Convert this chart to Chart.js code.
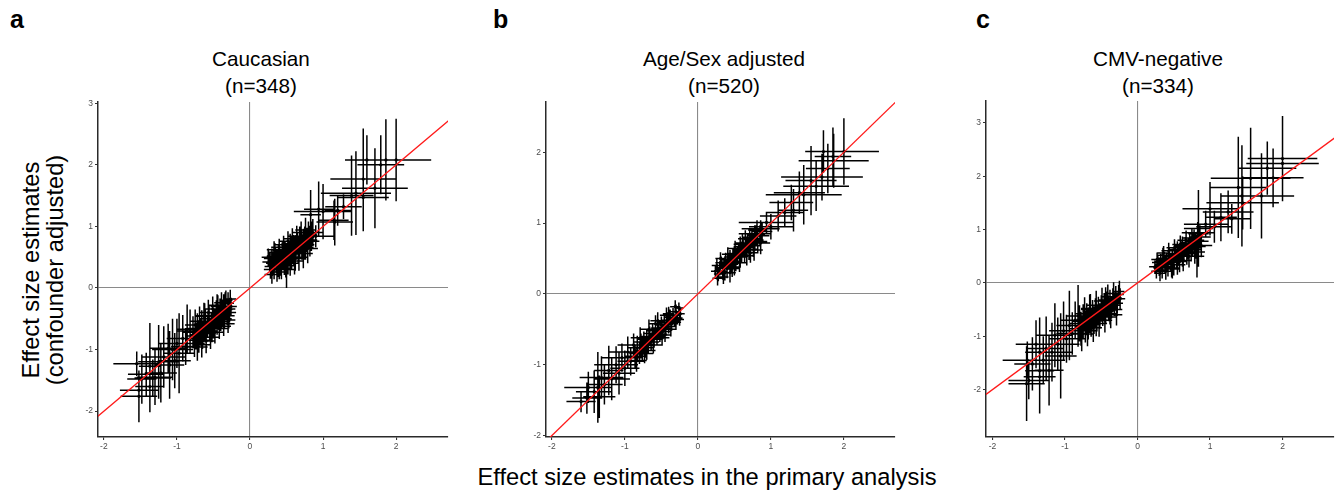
<!DOCTYPE html>
<html>
<head>
<meta charset="utf-8">
<script src="https://cdn.jsdelivr.net/npm/chart.js@4.4.1/dist/chart.umd.min.js"></script>
<style>
  body {
    margin: 0;
    width: 1338px;
    height: 493px;
    background: #fff;
    position: relative;
    overflow: hidden;
    font-family: "Liberation Sans", Arial, sans-serif;
    color: #000;
  }
  canvas { position: absolute; }
  .letter { position: absolute; font-weight: bold; font-size: 25px; line-height: 25px; }
  .title { position: absolute; width: 300px; text-align: center; font-size: 20.7px; line-height: 26.6px; }
  .axis-title { position: absolute; text-align: center; font-size: 23.7px; line-height: 24px; white-space: nowrap; }
</style>
</head>
<body>
<div class="letter" style="left:10px;top:7px">a</div>
<div class="letter" style="left:493px;top:7px">b</div>
<div class="letter" style="left:976px;top:7px">c</div>

<div class="title" style="left:111px;top:46px">Caucasian<br>(n=348)</div>
<div class="title" style="left:574px;top:46px">Age/Sex adjusted<br>(n=520)</div>
<div class="title" style="left:1008px;top:46px">CMV-negative<br>(n=334)</div>

<div class="axis-title" style="left:-107px;top:246px;width:300px;height:48px;transform:rotate(-90deg)">Effect size estimates<br>(confounder adjusted)</div>
<div class="axis-title" style="left:407px;top:465px;width:600px">Effect size estimates in the primary analysis</div>

<canvas id="chartA" width="390" height="364" style="left:62px;top:94px"></canvas>
<canvas id="chartB" width="389" height="364" style="left:510px;top:94px"></canvas>
<canvas id="chartC" width="388" height="365" style="left:950px;top:93px"></canvas>

<script>
// ticks
const xTicks = [-2, -1, 0, 1, 2];
const yTicksA = [-2, -1, 0, 1, 2, 3];
const yTicksB = [-2, -1, 0, 1, 2];
const yTicksC = [-2, -1, 0, 1, 2, 3];

// y = x reference line ends
const identityEnds = [-3, 3.5];

// rows: [primary estimate, adjusted estimate, x half-width, y half-width]
const caucasianRows = [
  // positive cluster
  [0.27,0.42,0.10,0.15],[0.29,0.35,0.09,0.14],[0.30,0.48,0.11,0.16],[0.32,0.40,0.10,0.18],
  [0.33,0.30,0.08,0.16],[0.35,0.52,0.12,0.15],[0.36,0.44,0.10,0.17],[0.38,0.36,0.09,0.18],
  [0.39,0.55,0.11,0.14],[0.41,0.47,0.12,0.17],[0.42,0.40,0.10,0.20],[0.44,0.58,0.10,0.16],
  [0.45,0.50,0.13,0.18],[0.47,0.43,0.11,0.22],[0.48,0.62,0.12,0.15],[0.50,0.53,0.10,0.19],
  [0.50,0.30,0.10,0.30],[0.53,0.60,0.11,0.16],[0.54,0.55,0.13,0.18],[0.56,0.66,0.10,0.17],
  [0.57,0.50,0.12,0.20],[0.59,0.62,0.12,0.18],[0.60,0.70,0.11,0.16],[0.62,0.58,0.13,0.19],
  [0.63,0.66,0.10,0.20],[0.65,0.74,0.12,0.17],[0.66,0.62,0.11,0.22],[0.68,0.70,0.13,0.18],
  [0.70,0.78,0.12,0.19],[0.71,0.66,0.10,0.20],[0.73,0.74,0.12,0.22],[0.75,0.82,0.13,0.18],
  [0.76,0.70,0.12,0.24],[0.78,0.78,0.14,0.20],[0.80,0.86,0.12,0.22],[0.82,0.76,0.13,0.25],
  [0.84,0.84,0.15,0.24],[0.86,0.90,0.14,0.22],[0.40,0.30,0.10,0.16],[0.62,0.48,0.12,0.20],
  [0.34,0.58,0.10,0.15],[0.55,0.72,0.11,0.16],
  [0.30,0.22,0.10,0.15],[0.33,0.62,0.10,0.14],[0.37,0.26,0.10,0.16],[0.40,0.66,0.11,0.14],
  [0.43,0.32,0.11,0.18],[0.46,0.70,0.12,0.15],[0.49,0.36,0.11,0.19],[0.52,0.76,0.12,0.16],
  [0.55,0.40,0.12,0.20],[0.58,0.80,0.12,0.17],[0.61,0.44,0.12,0.22],[0.64,0.84,0.13,0.17],
  [0.67,0.50,0.13,0.22],[0.70,0.90,0.13,0.18],[0.73,0.56,0.13,0.24],[0.76,0.94,0.14,0.20],
  [0.79,0.64,0.14,0.24],[0.25,0.50,0.09,0.14],[0.28,0.30,0.09,0.15],[0.45,0.60,0.11,0.17],
  [0.52,0.42,0.11,0.20],[0.68,0.82,0.12,0.18],[0.74,0.66,0.13,0.20],[0.60,0.56,0.12,0.20],
  [0.38,0.46,0.10,0.17],
  // upper tail
  [0.90,0.84,0.25,0.18],[0.83,1.19,0.14,0.40],[0.94,1.28,0.20,0.45],[1.00,1.24,0.40,0.45],
  [1.15,1.10,0.20,0.32],[1.20,1.26,0.18,0.25],[1.28,1.32,0.25,0.20],[1.16,1.07,0.25,0.38],
  [1.39,1.50,0.30,0.65],[1.45,1.54,0.48,0.68],[1.55,1.47,0.35,0.55],[1.55,1.77,0.45,0.82],
  [1.71,1.62,0.45,0.65],[1.79,2.00,0.32,0.48],[1.86,2.08,0.35,0.66],[2.00,2.08,0.48,0.67],
  [1.60,2.08,0.30,0.40],
  // negative cluster
  [-0.26,-0.30,0.08,0.14],[-0.28,-0.40,0.09,0.16],[-0.30,-0.25,0.08,0.18],[-0.31,-0.45,0.10,0.15],
  [-0.33,-0.35,0.09,0.17],[-0.35,-0.50,0.10,0.16],[-0.36,-0.30,0.09,0.20],[-0.38,-0.42,0.10,0.17],
  [-0.40,-0.55,0.11,0.15],[-0.41,-0.36,0.10,0.19],[-0.43,-0.48,0.11,0.18],[-0.45,-0.60,0.10,0.16],
  [-0.46,-0.40,0.12,0.20],[-0.48,-0.52,0.11,0.17],[-0.50,-0.64,0.12,0.18],[-0.51,-0.45,0.10,0.22],
  [-0.53,-0.58,0.12,0.18],[-0.55,-0.70,0.11,0.17],[-0.56,-0.50,0.12,0.21],[-0.58,-0.62,0.13,0.19],
  [-0.60,-0.74,0.12,0.18],[-0.61,-0.56,0.11,0.22],[-0.63,-0.68,0.13,0.20],[-0.65,-0.80,0.12,0.19],
  [-0.66,-0.60,0.14,0.24],[-0.68,-0.72,0.13,0.21],[-0.70,-0.85,0.14,0.20],[-0.72,-0.66,0.13,0.25],
  [-0.74,-0.78,0.15,0.22],[-0.76,-0.90,0.14,0.22],[-0.78,-0.72,0.15,0.26],[-0.34,-0.22,0.08,0.15],
  [-0.29,-0.52,0.09,0.14],[-0.44,-0.30,0.10,0.18],[-0.52,-0.72,0.11,0.16],[-0.62,-0.45,0.12,0.20],
  [-0.27,-0.18,0.08,0.15],[-0.30,-0.58,0.09,0.15],[-0.33,-0.20,0.09,0.16],[-0.36,-0.62,0.10,0.16],
  [-0.39,-0.24,0.10,0.17],[-0.42,-0.66,0.11,0.17],[-0.45,-0.28,0.11,0.18],[-0.48,-0.72,0.11,0.18],
  [-0.51,-0.34,0.12,0.20],[-0.54,-0.80,0.12,0.19],[-0.57,-0.40,0.12,0.21],[-0.60,-0.86,0.13,0.20],
  [-0.63,-0.46,0.13,0.22],[-0.66,-0.92,0.13,0.21],[-0.69,-0.54,0.14,0.24],[-0.72,-0.96,0.14,0.22],
  [-0.75,-0.60,0.14,0.25],[-0.28,-0.34,0.08,0.15],[-0.39,-0.48,0.10,0.17],[-0.50,-0.56,0.11,0.19],
  [-0.61,-0.66,0.12,0.20],[-0.70,-0.76,0.13,0.21],
  // lower tail
  [-0.82,-0.70,0.18,0.35],[-0.86,-0.67,0.15,0.40],[-0.88,-0.95,0.20,0.30],[-0.92,-0.82,0.22,0.38],
  [-0.97,-1.06,0.20,0.65],[-1.00,-0.90,0.25,0.40],[-1.03,-1.18,0.22,0.45],[-1.06,-1.00,0.28,0.50],
  [-1.10,-1.25,0.20,0.55],[-1.12,-0.98,0.25,0.40],[-1.18,-1.12,0.30,0.50],[-1.22,-1.38,0.22,0.48],
  [-1.25,-1.20,0.28,0.60],[-1.30,-1.45,0.25,0.45],[-1.37,-1.27,0.15,0.70],[-1.37,-1.60,0.20,0.42],
  [-1.42,-1.40,0.25,0.35],[-1.48,-1.48,0.20,0.40],[-1.55,-1.23,0.32,0.20],[-1.52,-1.76,0.25,0.42],
  [-1.52,-1.66,0.26,0.30],[-1.33,-1.46,0.25,0.30]
];

const ageSexRows = [
  // positive cluster
  [0.24,0.32,0.06,0.08],[0.26,0.40,0.07,0.09],[0.28,0.28,0.06,0.10],[0.30,0.36,0.07,0.10],
  [0.32,0.44,0.08,0.09],[0.34,0.32,0.07,0.12],[0.36,0.40,0.08,0.11],[0.38,0.48,0.08,0.10],
  [0.40,0.36,0.07,0.14],[0.42,0.45,0.09,0.11],[0.44,0.52,0.08,0.10],[0.46,0.42,0.09,0.13],
  [0.48,0.50,0.08,0.12],[0.50,0.57,0.09,0.11],[0.52,0.46,0.09,0.14],[0.54,0.55,0.10,0.12],
  [0.56,0.62,0.09,0.11],[0.58,0.52,0.10,0.14],[0.60,0.60,0.09,0.13],[0.62,0.67,0.10,0.12],
  [0.64,0.58,0.10,0.14],[0.66,0.66,0.11,0.13],[0.68,0.72,0.10,0.12],[0.70,0.63,0.11,0.15],
  [0.72,0.71,0.10,0.14],[0.74,0.78,0.12,0.13],[0.76,0.68,0.11,0.16],[0.78,0.76,0.12,0.15],
  [0.80,0.83,0.12,0.14],[0.82,0.74,0.13,0.16],[0.85,0.82,0.13,0.15],[0.88,0.88,0.14,0.14],
  [0.35,0.24,0.07,0.10],[0.44,0.30,0.08,0.14],[0.58,0.70,0.09,0.11],[0.72,0.58,0.11,0.14],
  [0.50,0.38,0.09,0.12],[0.65,0.78,0.10,0.12],
  [0.27,0.22,0.07,0.10],[0.31,0.50,0.07,0.09],[0.37,0.30,0.08,0.11],[0.41,0.56,0.08,0.10],
  [0.47,0.36,0.09,0.12],[0.51,0.64,0.09,0.11],[0.57,0.44,0.10,0.13],[0.61,0.72,0.10,0.12],
  [0.67,0.54,0.11,0.14],[0.71,0.80,0.11,0.13],[0.77,0.62,0.12,0.15],[0.81,0.90,0.12,0.14],
  [0.86,0.72,0.13,0.16],
  // upper tail
  [0.78,0.85,0.22,0.12],[0.86,0.92,0.26,0.12],[0.94,1.01,0.38,0.15],[1.00,0.95,0.30,0.18],
  [1.10,1.10,0.25,0.22],[1.19,1.15,0.25,0.20],[1.28,1.29,0.30,0.25],[1.39,1.43,0.35,0.30],
  [1.45,1.40,0.52,0.42],[1.31,1.18,0.20,0.30],[1.55,1.60,0.35,0.49],[1.70,1.65,0.56,0.33],
  [1.62,1.52,0.45,0.35],[1.78,1.77,0.30,0.35],[1.86,1.88,0.48,0.38],[2.00,2.01,0.48,0.47],
  [1.85,1.94,0.25,0.41],[1.72,2.01,0.25,0.30],
  // negative cluster
  [-0.24,-0.28,0.06,0.09],[-0.26,-0.20,0.06,0.08],[-0.28,-0.34,0.07,0.09],[-0.30,-0.25,0.07,0.10],
  [-0.32,-0.38,0.07,0.09],[-0.34,-0.30,0.08,0.10],[-0.36,-0.42,0.08,0.10],[-0.38,-0.33,0.08,0.11],
  [-0.40,-0.46,0.09,0.10],[-0.42,-0.37,0.08,0.11],[-0.44,-0.49,0.09,0.10],[-0.46,-0.40,0.09,0.12],
  [-0.48,-0.53,0.10,0.11],[-0.50,-0.44,0.09,0.12],[-0.52,-0.57,0.10,0.11],[-0.54,-0.48,0.10,0.12],
  [-0.56,-0.60,0.10,0.12],[-0.58,-0.52,0.11,0.13],[-0.60,-0.64,0.10,0.12],[-0.62,-0.56,0.11,0.13],
  [-0.64,-0.68,0.11,0.13],[-0.66,-0.60,0.12,0.14],[-0.68,-0.72,0.11,0.13],[-0.70,-0.64,0.12,0.15],
  [-0.72,-0.76,0.12,0.14],[-0.74,-0.68,0.13,0.15],[-0.76,-0.80,0.12,0.15],[-0.78,-0.72,0.13,0.16],
  [-0.80,-0.84,0.14,0.15],[-0.83,-0.76,0.14,0.17],[-0.86,-0.88,0.15,0.16],[-0.30,-0.40,0.07,0.09],
  [-0.45,-0.58,0.09,0.10],[-0.58,-0.42,0.10,0.12],[-0.70,-0.80,0.12,0.13],[-0.40,-0.28,0.08,0.10],
  [-0.25,-0.36,0.06,0.09],[-0.31,-0.18,0.07,0.09],[-0.37,-0.50,0.08,0.10],[-0.43,-0.30,0.09,0.11],
  [-0.49,-0.62,0.10,0.11],[-0.55,-0.38,0.10,0.12],[-0.61,-0.72,0.11,0.12],[-0.67,-0.50,0.12,0.14],
  [-0.73,-0.84,0.12,0.14],[-0.79,-0.62,0.13,0.15],[-0.84,-0.94,0.14,0.16],
  // lower tail
  [-0.88,-0.72,0.22,0.16],[-0.92,-0.95,0.18,0.20],[-0.96,-0.82,0.25,0.22],[-1.00,-1.05,0.20,0.25],
  [-1.04,-0.90,0.28,0.20],[-1.08,-1.12,0.22,0.30],[-1.12,-1.00,0.30,0.26],[-1.18,-1.20,0.25,0.30],
  [-1.22,-1.08,0.20,0.35],[-1.28,-1.28,0.25,0.28],[-1.32,-1.18,0.30,0.30],[-1.37,-1.32,0.20,0.50],
  [-1.42,-1.38,0.25,0.30],[-1.50,-1.32,0.33,0.22],[-1.52,-1.47,0.20,0.22],[-1.60,-1.52,0.20,0.15],
  [-1.35,-1.45,0.22,0.30]
];

const cmvNegRows = [
  // positive cluster
  [0.24,0.30,0.08,0.12],[0.26,0.22,0.07,0.14],[0.28,0.38,0.08,0.13],[0.30,0.28,0.08,0.15],
  [0.32,0.40,0.09,0.14],[0.34,0.24,0.08,0.16],[0.36,0.46,0.09,0.15],[0.38,0.34,0.10,0.16],
  [0.40,0.42,0.09,0.15],[0.42,0.30,0.10,0.18],[0.44,0.50,0.10,0.16],[0.46,0.38,0.10,0.17],
  [0.48,0.46,0.11,0.18],[0.50,0.34,0.10,0.20],[0.52,0.55,0.11,0.16],[0.54,0.44,0.11,0.18],
  [0.56,0.52,0.12,0.17],[0.58,0.40,0.11,0.20],[0.60,0.60,0.12,0.18],[0.62,0.50,0.12,0.20],
  [0.64,0.58,0.12,0.19],[0.66,0.68,0.13,0.18],[0.68,0.55,0.12,0.21],[0.70,0.64,0.13,0.20],
  [0.72,0.74,0.13,0.18],[0.74,0.62,0.14,0.22],[0.76,0.70,0.13,0.21],[0.78,0.80,0.14,0.20],
  [0.80,0.68,0.14,0.23],[0.83,0.78,0.15,0.22],[0.86,0.86,0.15,0.22],[0.82,0.50,0.10,0.40],
  [0.48,0.26,0.10,0.18],[0.36,0.56,0.09,0.13],[0.62,0.70,0.11,0.17],[0.55,0.62,0.10,0.16],
  [0.27,0.44,0.08,0.13],[0.31,0.18,0.08,0.15],[0.35,0.52,0.09,0.14],[0.39,0.22,0.09,0.16],
  [0.43,0.60,0.10,0.15],[0.47,0.28,0.10,0.18],[0.51,0.66,0.11,0.16],[0.55,0.34,0.11,0.19],
  [0.59,0.72,0.11,0.17],[0.63,0.42,0.12,0.20],[0.67,0.80,0.12,0.18],[0.71,0.50,0.13,0.21],
  [0.75,0.84,0.13,0.19],[0.79,0.58,0.14,0.22],[0.84,0.92,0.14,0.20],[0.88,0.70,0.15,0.22],
  // upper tail
  [0.83,0.94,0.22,0.20],[0.84,1.02,0.20,0.72],[0.94,1.10,0.30,0.25],[1.00,1.39,0.38,0.50],
  [1.06,1.05,0.25,0.30],[1.15,1.23,0.22,0.45],[1.25,1.33,0.35,0.40],[1.30,1.20,0.25,0.28],
  [1.39,1.79,0.40,0.95],[1.45,1.50,0.50,0.50],[1.44,1.63,0.30,0.95],[1.56,1.96,0.55,0.95],
  [1.71,1.63,0.45,0.80],[1.79,2.15,0.40,0.50],[1.87,1.97,0.42,0.55],[2.00,2.33,0.48,0.80],
  [2.00,2.24,0.50,0.55],
  // negative cluster
  [-0.24,-0.30,0.07,0.20],[-0.26,-0.22,0.07,0.18],[-0.28,-0.38,0.08,0.20],[-0.30,-0.28,0.08,0.22],
  [-0.32,-0.42,0.08,0.20],[-0.34,-0.32,0.09,0.22],[-0.36,-0.46,0.09,0.21],[-0.38,-0.36,0.09,0.23],
  [-0.40,-0.50,0.10,0.22],[-0.42,-0.40,0.10,0.24],[-0.44,-0.54,0.10,0.22],[-0.46,-0.44,0.10,0.25],
  [-0.48,-0.58,0.11,0.23],[-0.50,-0.48,0.11,0.25],[-0.52,-0.62,0.11,0.24],[-0.54,-0.52,0.12,0.26],
  [-0.56,-0.66,0.12,0.25],[-0.58,-0.56,0.12,0.27],[-0.60,-0.70,0.12,0.26],[-0.62,-0.60,0.13,0.28],
  [-0.64,-0.74,0.13,0.27],[-0.66,-0.64,0.13,0.30],[-0.68,-0.78,0.14,0.28],[-0.70,-0.68,0.14,0.30],
  [-0.72,-0.82,0.14,0.30],[-0.75,-0.72,0.15,0.32],[-0.78,-0.86,0.15,0.32],[-0.80,-0.76,0.15,0.34],
  [-0.29,-0.50,0.08,0.18],[-0.44,-0.32,0.10,0.24],[-0.57,-0.76,0.11,0.24],[-0.66,-0.48,0.12,0.26],
  [-0.38,-0.58,0.09,0.20],
  [-0.25,-0.16,0.07,0.20],[-0.29,-0.60,0.08,0.20],[-0.33,-0.20,0.08,0.21],[-0.37,-0.64,0.09,0.21],
  [-0.41,-0.26,0.10,0.23],[-0.45,-0.70,0.10,0.23],[-0.49,-0.34,0.11,0.25],[-0.53,-0.76,0.11,0.25],
  [-0.57,-0.42,0.12,0.27],[-0.61,-0.84,0.12,0.27],[-0.65,-0.50,0.13,0.29],[-0.69,-0.90,0.14,0.29],
  [-0.73,-0.58,0.14,0.31],[-0.77,-0.96,0.15,0.32],
  // lower tail
  [-0.82,-0.62,0.15,0.58],[-0.86,-0.70,0.20,0.35],[-0.90,-0.95,0.22,0.40],[-0.94,-0.80,0.18,0.65],
  [-0.98,-1.05,0.25,0.45],[-1.02,-0.90,0.20,0.55],[-1.06,-1.37,0.22,0.80],[-1.10,-1.15,0.30,0.50],
  [-1.14,-0.98,0.25,0.60],[-1.18,-1.30,0.28,0.55],[-1.22,-1.64,0.20,0.66],[-1.26,-1.23,0.25,0.60],
  [-1.30,-1.45,0.30,0.45],[-1.35,-1.76,0.22,0.53],[-1.35,-1.30,0.20,0.65],[-1.40,-1.15,0.28,0.45],
  [-1.45,-1.52,0.25,0.50],[-1.52,-1.45,0.34,0.35],[-1.53,-1.89,0.25,0.70],[-1.50,-1.83,0.28,0.35],
  [-1.35,-1.65,0.20,0.80]
];

Chart.defaults.font.family = '"Liberation Sans", Arial, sans-serif';

// draws the horizontal and vertical error bars under the points
const errorBars = {
    id: "errorBars",
    beforeDatasetsDraw(chart) {
        const { ctx, chartArea, scales } = chart;
        const pts = chart.data.datasets[1].data;
        ctx.save();
        ctx.beginPath();
        ctx.rect(chartArea.left, chartArea.top, chartArea.width, chartArea.height);
        ctx.clip();
        ctx.strokeStyle = "#000";
        ctx.lineWidth = 1.5;
        ctx.beginPath();
        for (const p of pts) {
            const px = scales.x.getPixelForValue(p.x);
            const py = scales.y.getPixelForValue(p.y);
            ctx.moveTo(scales.x.getPixelForValue(p.x - p.xe), py);
            ctx.lineTo(scales.x.getPixelForValue(p.x + p.xe), py);
            ctx.moveTo(px, scales.y.getPixelForValue(p.y - p.ye));
            ctx.lineTo(px, scales.y.getPixelForValue(p.y + p.ye));
        }
        ctx.stroke();
        ctx.restore();
    },
};

function axis(min, max, ticks, fitSize, horizontal) {
    return {
        type: "linear",
        min: min,
        max: max,
        afterBuildTicks: (s) => {
            s.ticks = ticks.map((v) => ({ value: v }));
        },
        afterFit: (s) => {
            if (horizontal) s.height = fitSize;
            else s.width = fitSize;
        },
        ticks: {
            color: "#4d4d4d",
            font: { size: 8.5 },
            padding: 2,
            maxRotation: 0,
            callback: (v) => String(v),
        },
        grid: {
            color: (c) => (c.tick && c.tick.value === 0 ? "#8a8a8a" : "rgba(0,0,0,0)"),
            tickColor: "#333",
            tickLength: 3,
            lineWidth: 1.1,
        },
        border: { color: "#2a2a2a", width: 1.5 },
    };
}

function makePanel(id, rows, xRange, yRange, yTicks, padRight, xAxisHeight) {
    const ctx = document.getElementById(id).getContext("2d");
    return new Chart(ctx, {
        type: "scatter",
        data: {
            datasets: [
                {
                    type: "line",
                    data: identityEnds.map((v) => ({ x: v, y: v })),
                    borderColor: "#ff1a1a",
                    borderWidth: 1.3,
                    pointRadius: 0,
                    fill: false,
                },
                {
                    data: rows.map((r) => ({ x: r[0], y: r[1], xe: r[2], ye: r[3] })),
                    backgroundColor: "#000",
                    borderWidth: 0,
                    pointRadius: 1.6,
                },
            ],
        },
        options: {
            responsive: false,
            animation: false,
            devicePixelRatio: 1,
            layout: { padding: { top: 8, right: padRight, left: 0, bottom: 0 } },
            plugins: {
                legend: { display: false },
                title: { display: false },
                tooltip: { enabled: false },
            },
            scales: {
                x: axis(xRange[0], xRange[1], xTicks, xAxisHeight, true),
                y: axis(yRange[0], yRange[1], yTicks, 36, false),
            },
        },
        plugins: [errorBars],
    });
}

makePanel("chartA", caucasianRows, [-2.08, 2.71], [-2.42, 3.02], yTicksA, 1, 21);
makePanel("chartB", ageSexRows, [-2.08, 2.70], [-2.02, 2.71], yTicksB, 1, 21);
makePanel("chartC", cmvNegRows, [-2.09, 2.71], [-2.89, 3.41], yTicksC, 0, 21);
</script>
</body>
</html>
